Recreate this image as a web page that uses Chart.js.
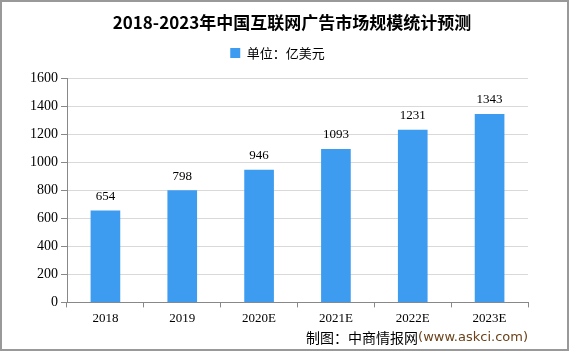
<!DOCTYPE html>
<html>
<head>
<meta charset="utf-8">
<script src="https://cdn.jsdelivr.net/npm/chart.js@4"></script>
<style>
  html, body { margin: 0; padding: 0; background: #fff; }
  #wrap { width: 569px; height: 351px; position: relative; }
</style>
</head>
<body>
<div id="wrap"><canvas id="chart" width="569" height="351"></canvas></div>
<script>
// データ
const years = ['2018', '2019', '2020E', '2021E', '2022E', '2023E'];
const marketSize = [654, 798, 946, 1093, 1231, 1343];
const yTicks = [0, 200, 400, 600, 800, 1000, 1200, 1400, 1600];

const titleText = '2018-2023年中国互联网广告市场规模统计预测';
const unitLabel = '单位：亿美元';
const titleFont = 'bold 17px "Noto Sans CJK SC", sans-serif';

// 凡例の下に余白を追加
const legendGap = {
    id: 'legendGap',
    beforeInit(chart) {
        if (!chart.legend) return;
        const origFit = chart.legend.fit;
        chart.legend.fit = function() {
            origFit.bind(chart.legend)();
            this.height += 9;
        };
    }
};

// 棒の上に数値を表示
const valueLabels = {
    id: 'valueLabels',
    afterDatasetsDraw(chart) {
        const ctx = chart.ctx;
        const meta = chart.getDatasetMeta(0);
        ctx.save();
        ctx.font = '13px "Liberation Serif", serif';
        ctx.fillStyle = '#000';
        ctx.textAlign = 'center';
        ctx.textBaseline = 'bottom';
        meta.data.forEach((bar, i) => {
            ctx.fillText(String(marketSize[i]), bar.x, bar.y - 8);
        });
        ctx.restore();
    }
};

// タイトル（画像全体の中央寄りに配置）、枠線と出典
const frameAndSource = {
    id: 'frameAndSource',
    afterDraw(chart) {
        const ctx = chart.ctx;
        ctx.save();
        ctx.strokeStyle = '#999';
        ctx.lineWidth = 2;
        ctx.strokeRect(1, 1, chart.width - 2, chart.height - 2);

        const tb = chart.titleBlock;
        ctx.font = titleFont;
        ctx.fillStyle = '#000';
        ctx.textAlign = 'center';
        ctx.textBaseline = 'middle';
        ctx.fillText(titleText, 292, tb.top + 12 + (tb.height - 20) / 2);

        ctx.textAlign = 'left';
        const src1 = '制图：中商情报网';
        const src2 = '(www.askci.com)';
        ctx.font = '14px "Noto Sans CJK SC", sans-serif';
        const w1 = ctx.measureText(src1).width;
        ctx.font = '13px "DejaVu Sans", sans-serif';
        const w2 = ctx.measureText(src2).width;
        const right = 528;
        const x0 = right - w1 - w2;
        ctx.font = '14px "Noto Sans CJK SC", sans-serif';
        ctx.fillStyle = '#000';
        ctx.fillText(src1, x0, 338);
        ctx.font = '13px "DejaVu Sans", sans-serif';
        ctx.fillStyle = '#6b4219';
        ctx.fillText(src2, x0 + w1, 338);
        ctx.restore();
    }
};

new Chart(document.getElementById('chart'), {
    type: 'bar',
    data: {
        labels: years,
        datasets: [{
            label: unitLabel,
            data: marketSize,
            backgroundColor: '#3d9cf0',
            borderWidth: 0,
            barThickness: 29
        }]
    },
    options: {
        responsive: false,
        animation: false,
        layout: {
            padding: { left: 27, right: 41, top: 0, bottom: 22 }
        },
        plugins: {
            title: {
                display: true,
                text: titleText,
                color: 'rgba(0,0,0,0)',
                font: { family: '"Noto Sans CJK SC", sans-serif', size: 17, weight: 'bold' },
                padding: { top: 12, bottom: 8 }
            },
            legend: {
                display: true,
                labels: {
                    boxWidth: 10,
                    boxHeight: 10,
                    color: '#000',
                    font: { family: '"Noto Sans CJK SC", sans-serif', size: 13 },
                    padding: 6
                }
            },
            tooltip: { enabled: false }
        },
        scales: {
            x: {
                offset: true,
                grid: {
                    offset: true,
                    drawOnChartArea: false,
                    drawTicks: true,
                    tickLength: 5,
                    color: '#888'
                },
                border: { color: '#888', width: 1 },
                ticks: {
                    color: '#000',
                    font: { family: '"Liberation Serif", serif', size: 13 },
                    padding: 3
                }
            },
            y: {
                min: 0,
                max: 1600,
                afterBuildTicks(axis) {
                    axis.ticks = yTicks.map(v => ({ value: v }));
                },
                grid: {
                    color: '#d9d9d9',
                    tickLength: 6,
                    tickColor: '#888'
                },
                border: { color: '#888', width: 1 },
                ticks: {
                    color: '#000',
                    font: { family: '"Liberation Serif", serif', size: 14 },
                    padding: 3,
                    callback: function(value) {
                        return String(value);
                    }
                }
            }
        }
    },
    plugins: [legendGap, valueLabels, frameAndSource]
});
</script>
</body>
</html>
